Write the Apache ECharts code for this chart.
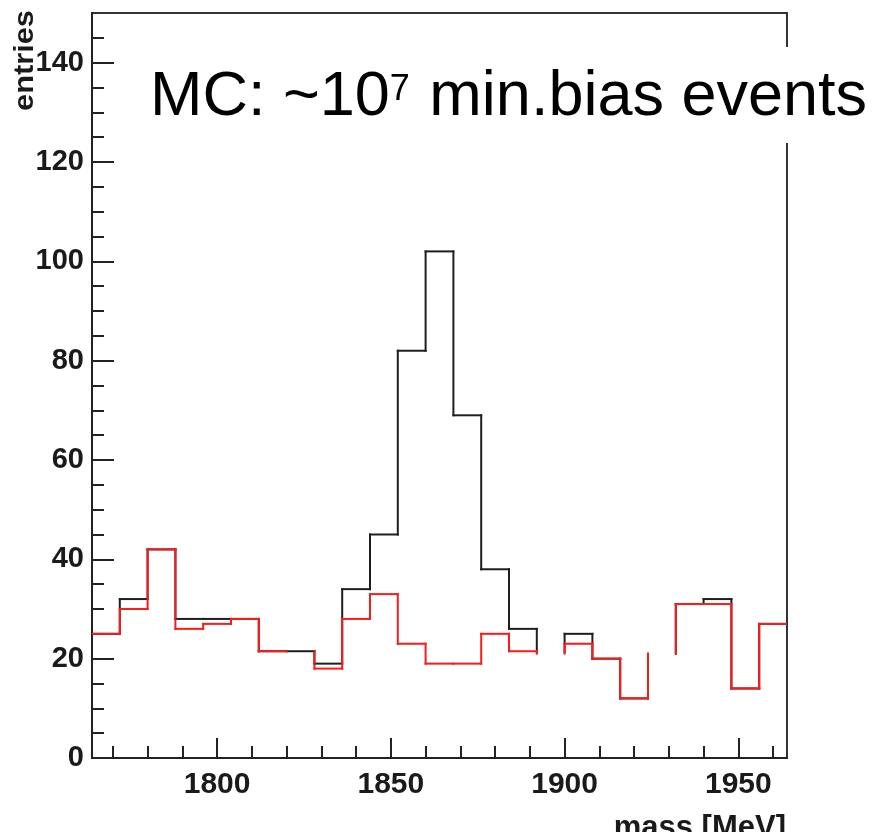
<!DOCTYPE html>
<html>
<head>
<meta charset="utf-8">
<script src="https://cdn.jsdelivr.net/npm/echarts@6/dist/echarts.min.js"></script>
<style>
html,body{margin:0;padding:0;background:#fff;}
#chart{width:877px;height:832px;}
</style>
</head>
<body>
<div id="chart"></div>
<script>
// ---- data ----
const binLowEdges = [1764,1772,1780,1788,1796,1804,1812,1820,1828,1836,1844,1852,1860,1868,1876,1884,1892,1900,1908,1916,1924,1932,1940,1948,1956];
const binWidth = 8;
// black histogram (all entries)
const blackValues = [25,32,42,28,28,28,21.5,21.5,19,34,45,82,102,69,38,26,21.3,25,20,12,21,31,32,14,27];
// red histogram
const redValues   = [25,30,42,26,27,28,21.5,21.5,18,28,33,23,19,19,25,21.5,21,23,20,12,21,31,31,14,27];
// bins whose horizontal segment is not visible in the reference
const blackUndrawnBins = [16,20];
const redUndrawnBins = [7,16,20];
// tick labels / tick positions
const xMajorTicks = [1800,1850,1900,1950];
const xMinorTicks = [1770,1780,1790,1810,1820,1830,1840,1860,1870,1880,1890,1910,1920,1930,1940,1960];
const yMajorTicks = [0,20,40,60,80,100,120,140];
const yMinorTicks = [5,10,15,25,30,35,45,50,55,65,70,75,85,90,95,105,110,115,125,130,135,145];
const xRange = [1764,1964];
const yRange = [0,150];

const FONT = "'Liberation Sans', Arial, Helvetica, sans-serif";
const AXIS_COLOR = '#222';

function histSeries(name, values, undrawn, color, z) {
  const data = values.map((v, i) => [
    binLowEdges[i], binLowEdges[i] + binWidth, v,
    i > 0 ? values[i - 1] : v,
    undrawn.indexOf(i) >= 0 ? 1 : 0
  ]);
  return {
    type: 'custom',
    name: name,
    coordinateSystem: 'cartesian2d',
    xAxisIndex: 0, yAxisIndex: 0,
    z: z, silent: true, clip: true,
    encode: { x: [0, 1], y: [2, 3] },
    data: data,
    renderItem: function (params, api) {
      const x0 = api.value(0), x1 = api.value(1), v = api.value(2), pv = api.value(3), hid = api.value(4);
      const a = api.coord([x0, v]), b = api.coord([x1, v]), p = api.coord([x0, pv]);
      const style = { stroke: color, lineWidth: 2, fill: null, lineCap: 'square' };
      const children = [];
      if (!hid) children.push({ type: 'line', shape: { x1: a[0], y1: a[1], x2: b[0], y2: b[1] }, style: style });
      if (params.dataIndex > 0 && pv !== v) children.push({ type: 'line', shape: { x1: p[0], y1: p[1], x2: a[0], y2: a[1] }, style: style });
      return { type: 'group', children: children };
    }
  };
}

const plainNumber = function (v) { return String(v); };

const chart = echarts.init(document.getElementById('chart'), null, { renderer: 'canvas' });
chart.setOption({
  animation: false,
  backgroundColor: '#fff',
  grid: { left: 92, top: 13, width: 695, height: 745, show: true, borderColor: '#333', borderWidth: 2, backgroundColor: 'transparent', outerBoundsMode: 'none', containLabel: false },
  xAxis: [
    {
      type: 'value', min: xRange[0], max: xRange[1], position: 'bottom',
      axisLine: { show: true, onZero: false, lineStyle: { color: AXIS_COLOR, width: 2 } },
      axisTick: { show: true, inside: true, length: 20, customValues: xMajorTicks, lineStyle: { color: AXIS_COLOR, width: 2 } },
      axisLabel: { show: true, customValues: xMajorTicks, formatter: plainNumber, margin: 12, fontSize: 30, fontWeight: 'bold', color: '#1a1a1a', fontFamily: FONT },
      splitLine: { show: false }
    },
    {
      type: 'value', min: xRange[0], max: xRange[1], position: 'bottom',
      axisLine: { show: false, onZero: false },
      axisTick: { show: true, inside: true, length: 12, customValues: xMinorTicks, lineStyle: { color: AXIS_COLOR, width: 2 } },
      axisLabel: { show: false },
      splitLine: { show: false }
    }
  ],
  yAxis: [
    {
      type: 'value', min: yRange[0], max: yRange[1], position: 'left',
      axisLine: { show: true, onZero: false, lineStyle: { color: AXIS_COLOR, width: 2 } },
      axisTick: { show: true, inside: true, length: 22, customValues: yMajorTicks, lineStyle: { color: AXIS_COLOR, width: 2 } },
      axisLabel: { show: true, customValues: yMajorTicks, formatter: plainNumber, margin: 8, fontSize: 29, fontWeight: 'bold', color: '#1a1a1a', fontFamily: FONT },
      splitLine: { show: false }
    },
    {
      type: 'value', min: yRange[0], max: yRange[1], position: 'left',
      axisLine: { show: false, onZero: false },
      axisTick: { show: true, inside: true, length: 12, customValues: yMinorTicks, lineStyle: { color: AXIS_COLOR, width: 2 } },
      axisLabel: { show: false },
      splitLine: { show: false }
    }
  ],
  series: [
    histSeries('all', blackValues, blackUndrawnBins, '#1e1e1e', 2),
    histSeries('background', redValues, redUndrawnBins, '#ff1a1a', 3)
  ],
  graphic: [
    { type: 'rect', z: 50, shape: { x: 138, y: 47, width: 739, height: 96 }, style: { fill: '#fff' } },
    {
      type: 'text', z: 51, x: 150, y: 98,
      style: {
        text: '{a|MC: ~10}{s|7}{a| min.bias events}',
        verticalAlign: 'middle', align: 'left',
        rich: {
          a: { fontSize: 63, fontFamily: FONT, fill: '#000' },
          s: { fontSize: 36, fontFamily: FONT, fill: '#000', verticalAlign: 'top', padding: [6, 2, 0, 0] }
        }
      }
    },
    {
      type: 'text', z: 51, x: 25, y: 10, rotation: Math.PI / 2, scaleX: 1.1,
      style: { text: 'entries', fontSize: 28, fontWeight: 'bold', fontFamily: FONT, fill: '#1a1a1a', align: 'right', verticalAlign: 'middle' }
    },
    {
      type: 'text', z: 51, x: 786, y: 828,
      style: { text: 'mass [MeV]', fontSize: 31, fontWeight: 'bold', fontFamily: FONT, fill: '#1a1a1a', align: 'right', verticalAlign: 'middle' }
    }
  ]
});
</script>
</body>
</html>
